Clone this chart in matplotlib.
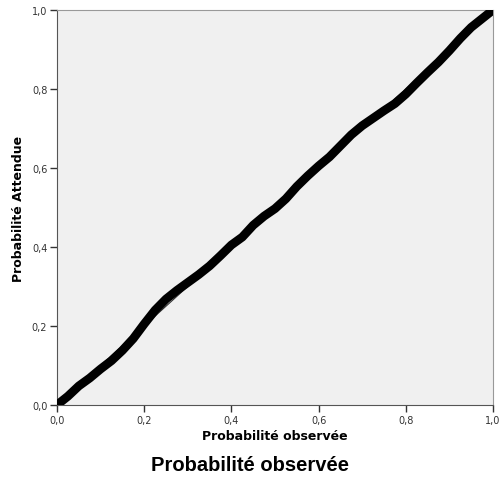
import matplotlib
matplotlib.use("Agg")
import matplotlib.pyplot as plt
import numpy as np

# P-P plot values
observed = [0, .025, .05, .075, .1, .125, .15, .175, .2, .225, .25, .275, .3, .325,
            .35, .375, .4, .425, .45, .475, .5, .525, .55, .575, .6, .625, .65, .675,
            .7, .725, .75, .775, .8, .825, .85, .875, .9, .925, .95, .975, 1.0]
expected = [0, .022, .048, .068, .091, .112, .138, .168, .205, .240, .268, .290, .310, .330,
            .352, .378, .405, .425, .455, .478, .497, .522, .553, .580, .605, .628, .656, .684,
            .707, .726, .745, .763, .787, .815, .842, .868, .897, .928, .956, .978, 1.0]
ticks = [0.0, 0.2, 0.4, 0.6, 0.8, 1.0]
tick_labels = ["0,0", "0,2", "0,4", "0,6", "0,8", "1,0"]

plt.rcParams['font.family'] = ['DejaVu Sans']

fig = plt.figure(figsize=(5, 4.85), dpi=100)
ax = fig.add_axes([0.114, 0.163, 0.872, 0.8144])
ax.set_facecolor("#f0f0f0")

# reference diagonal
ax.plot([0, 1], [0, 1], color="#333333", lw=0.8, zorder=2)
# observed curve
ax.plot(observed, expected, color="black", lw=6.3, solid_capstyle="round",
        solid_joinstyle="round", zorder=3)

ax.set_xlim(0, 1)
ax.set_ylim(0, 1)
ax.set_xticks(ticks)
ax.set_xticklabels(tick_labels)
ax.set_yticks(ticks)
ax.set_yticklabels(tick_labels)
ax.tick_params(direction="out", length=5, width=1, color="#333333",
               labelsize=7, labelcolor="#333333", pad=2)

for s in ["left", "bottom"]:
    ax.spines[s].set_color("#555555")
for s in ["top", "right"]:
    ax.spines[s].set_color("#999999")

ax.set_xlabel("Probabilité observée", fontsize=9, fontweight="bold", labelpad=3)
ax.set_ylabel("Probabilité Attendue", fontsize=9, fontweight="bold", labelpad=5)

fig.text(0.5, 0.041, "Probabilité observée", ha="center", va="center",
         fontsize=14.5, fontweight="bold", family=["Liberation Sans", "DejaVu Sans"])

fig.savefig("out.png", dpi=100)
